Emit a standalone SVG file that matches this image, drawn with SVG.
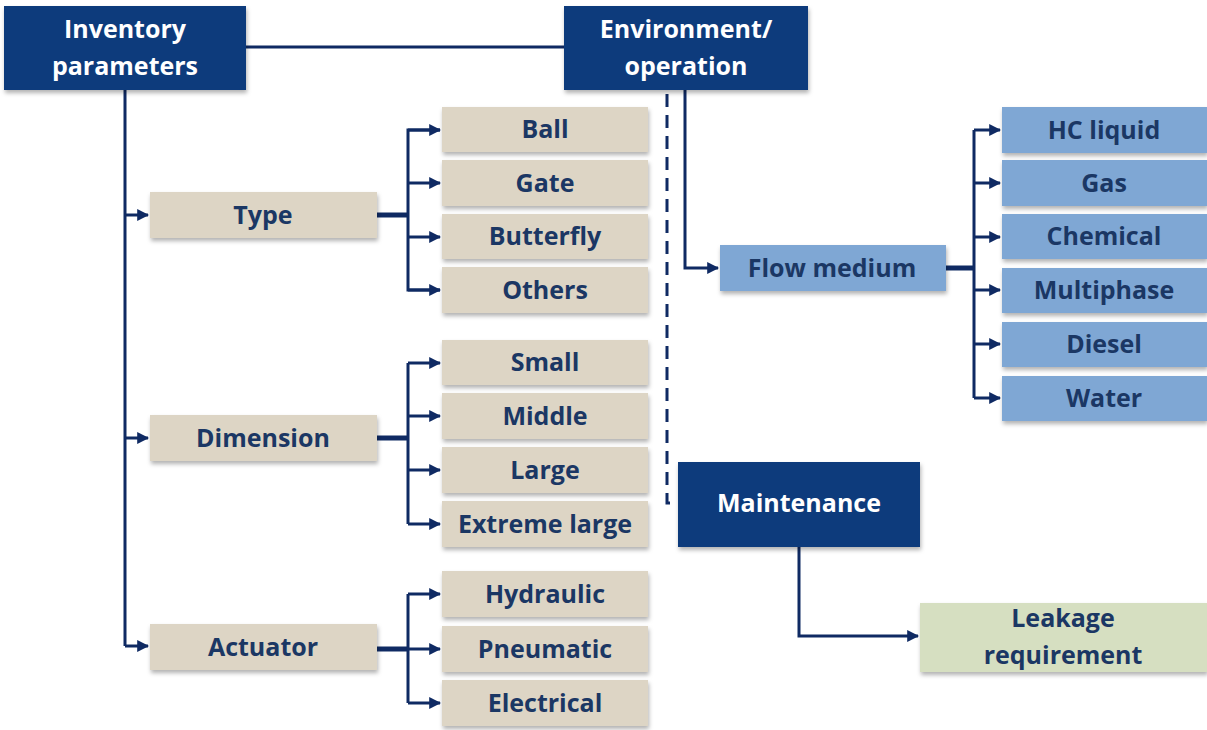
<svg xmlns="http://www.w3.org/2000/svg" width="1207" height="730" viewBox="0 0 1207 730">
<defs>
<filter id="sh" x="-10%" y="-10%" width="130%" height="140%">
<feDropShadow dx="1" dy="3" stdDeviation="2" flood-color="#000" flood-opacity="0.3"/>
</filter>
<marker id="ar" viewBox="0 0 10 10" refX="9" refY="5" markerWidth="4" markerHeight="4" orient="auto" markerUnits="strokeWidth">
<path d="M0,0 L10,5 L0,10 z" fill="#0f2a63"/>
</marker>
<style>
.dk{fill:#113b7c;filter:url(#sh)}
.tn{fill:#ddd5c5;filter:url(#sh)}
.lb{fill:#7fa7d4;filter:url(#sh)}
.gr{fill:#d6dfc1;filter:url(#sh)}
text{font-family:"Open Sans","Liberation Sans",sans-serif;font-weight:bold;font-size:25px;text-anchor:middle}
.w{fill:#ffffff}
.n{fill:#1b3764}
.c{fill:none;stroke:#0f2a63;stroke-width:3}
.a{fill:none;stroke:#0f2a63;stroke-width:3;marker-end:url(#ar)}
.t{fill:none;stroke:#0f2a63;stroke-width:5}
</style>
</defs>
<g id="connectors">
<line class="c" x1="246" y1="47" x2="564" y2="47"/>
<line class="c" x1="125" y1="90" x2="125" y2="646"/>
<line class="a" x1="125" y1="215" x2="148" y2="215"/>
<line class="a" x1="125" y1="438" x2="148" y2="438"/>
<line class="a" x1="125" y1="646" x2="148" y2="646"/>
<line class="t" x1="377" y1="215" x2="408" y2="215"/>
<polyline class="c" points="440,130 408,130 408,290 440,290"/>
<line class="a" x1="408" y1="130" x2="440" y2="130"/>
<line class="a" x1="408" y1="183" x2="440" y2="183"/>
<line class="a" x1="408" y1="237" x2="440" y2="237"/>
<line class="a" x1="408" y1="290" x2="440" y2="290"/>
<line class="t" x1="377" y1="438" x2="408" y2="438"/>
<line class="c" x1="408" y1="363" x2="408" y2="524"/>
<line class="a" x1="408" y1="363" x2="440" y2="363"/>
<line class="a" x1="408" y1="416" x2="440" y2="416"/>
<line class="a" x1="408" y1="470" x2="440" y2="470"/>
<line class="a" x1="408" y1="524" x2="440" y2="524"/>
<line class="t" x1="377" y1="649" x2="408" y2="649"/>
<line class="c" x1="408" y1="594" x2="408" y2="703"/>
<line class="a" x1="408" y1="594" x2="440" y2="594"/>
<line class="a" x1="408" y1="649" x2="440" y2="649"/>
<line class="a" x1="408" y1="703" x2="440" y2="703"/>
<polyline class="a" points="685,90 685,268 718,268"/>
<polyline class="c" points="667,94 667,503 678,503" stroke-width="3.5" stroke-dasharray="13,8"/>
<line class="t" x1="946" y1="268" x2="974" y2="268"/>
<line class="c" x1="974" y1="130" x2="974" y2="398"/>
<line class="a" x1="974" y1="130" x2="1000" y2="130"/>
<line class="a" x1="974" y1="183" x2="1000" y2="183"/>
<line class="a" x1="974" y1="237" x2="1000" y2="237"/>
<line class="a" x1="974" y1="290" x2="1000" y2="290"/>
<line class="a" x1="974" y1="344" x2="1000" y2="344"/>
<line class="a" x1="974" y1="398" x2="1000" y2="398"/>
<polyline class="a" points="799,547 799,636 918,636"/>
</g>
<g id="inventory"><rect class="dk" x="4" y="6" width="242" height="84"/><text class="w" x="125" y="38">Inventory</text><text class="w" x="125" y="75">parameters</text></g>
<g id="environment"><rect class="dk" x="564" y="6" width="244" height="84"/><text class="w" x="686" y="38">Environment/</text><text class="w" x="686" y="75">operation</text></g>
<g id="type"><rect class="tn" x="150" y="192" width="227" height="46"/><text class="n" x="263" y="224">Type</text></g>
<g id="dimension"><rect class="tn" x="150" y="415" width="227" height="46"/><text class="n" x="263" y="447">Dimension</text></g>
<g id="actuator"><rect class="tn" x="150" y="624" width="227" height="46"/><text class="n" x="263" y="656">Actuator</text></g>
<g id="ball"><rect class="tn" x="442" y="107" width="206" height="45"/><text class="n" x="545" y="138">Ball</text></g>
<g id="gate"><rect class="tn" x="442" y="160" width="206" height="46"/><text class="n" x="545" y="192">Gate</text></g>
<g id="butterfly"><rect class="tn" x="442" y="214" width="206" height="45"/><text class="n" x="545" y="245">Butterfly</text></g>
<g id="others"><rect class="tn" x="442" y="267" width="206" height="46"/><text class="n" x="545" y="299">Others</text></g>
<g id="small"><rect class="tn" x="442" y="340" width="206" height="45"/><text class="n" x="545" y="371">Small</text></g>
<g id="middle"><rect class="tn" x="442" y="393" width="206" height="46"/><text class="n" x="545" y="425">Middle</text></g>
<g id="large"><rect class="tn" x="442" y="447" width="206" height="46"/><text class="n" x="545" y="479">Large</text></g>
<g id="extreme"><rect class="tn" x="442" y="501" width="206" height="46"/><text class="n" x="545" y="533">Extreme large</text></g>
<g id="hydraulic"><rect class="tn" x="442" y="571" width="206" height="46"/><text class="n" x="545" y="603">Hydraulic</text></g>
<g id="pneumatic"><rect class="tn" x="442" y="626" width="206" height="46"/><text class="n" x="545" y="658">Pneumatic</text></g>
<g id="electrical"><rect class="tn" x="442" y="680" width="206" height="46"/><text class="n" x="545" y="712">Electrical</text></g>
<g id="flow"><rect class="lb" x="720" y="245" width="226" height="46"/><text class="n" x="832" y="277">Flow medium</text></g>
<g id="hc"><rect class="lb" x="1002" y="107" width="205" height="46"/><text class="n" x="1104" y="139">HC liquid</text></g>
<g id="gas"><rect class="lb" x="1002" y="160" width="205" height="46"/><text class="n" x="1104" y="192">Gas</text></g>
<g id="chemical"><rect class="lb" x="1002" y="214" width="205" height="45"/><text class="n" x="1104" y="245">Chemical</text></g>
<g id="multiphase"><rect class="lb" x="1002" y="268" width="205" height="45"/><text class="n" x="1104" y="299">Multiphase</text></g>
<g id="diesel"><rect class="lb" x="1002" y="322" width="205" height="45"/><text class="n" x="1104" y="353">Diesel</text></g>
<g id="water"><rect class="lb" x="1002" y="376" width="205" height="45"/><text class="n" x="1104" y="407">Water</text></g>
<g id="maintenance"><rect class="dk" x="678" y="462" width="242" height="85"/><text class="w" x="799" y="512">Maintenance</text></g>
<g id="leakage"><rect class="gr" x="920" y="603" width="287" height="69"/><text class="n" x="1063" y="627">Leakage</text><text class="n" x="1063" y="664">requirement</text></g>
</svg>
